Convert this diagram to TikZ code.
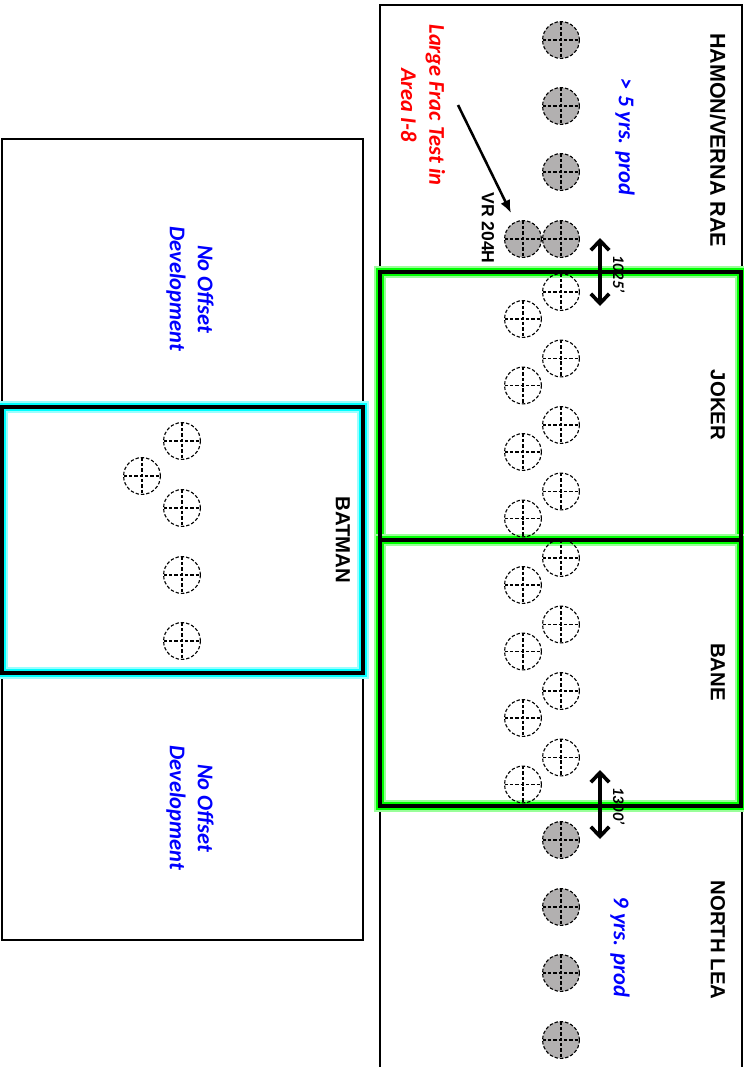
\documentclass[tikz,border=0pt]{standalone}
\usepackage{fontspec}
\setmainfont{Liberation Sans}
\newfontfamily\calibri{Carlito}
\usetikzlibrary{arrows.meta}
\definecolor{wellgray}{RGB}{178,176,176}
\definecolor{glowgreen}{RGB}{0,255,0}
\definecolor{glowcyan}{RGB}{0,255,255}
\definecolor{noteblue}{RGB}{0,0,255}
\definecolor{notered}{RGB}{255,0,0}

\begin{document}
\begin{tikzpicture}[x=0.025cm, y=-0.025cm, >={Latex[length=3.2mm,width=2.6mm]},
  well/.style={circle, draw, line width=0.8pt, dash pattern=on 2.4pt off 1.4pt, minimum size=0.92cm, inner sep=0pt,
    path picture={\draw[line width=0.8pt, dash pattern=on 2.4pt off 1.4pt] (path picture bounding box.north) -- (path picture bounding box.south) (path picture bounding box.west) -- (path picture bounding box.east);}},
  prodwell/.style={well, fill=wellgray},
  area/.style={font=\bfseries\fontsize{14.5}{17}\selectfont, rotate=-90},
  note/.style={font=\calibri\bfseries\itshape\fontsize{16}{20}\selectfont, rotate=-90, align=center},
  glow/.style={draw=#1!40, line width=0.32cm, postaction={draw=#1, line width=0.2cm}},
  frame/.style={draw=black, line width=0.1cm},
  gap/.style={{Straight Barb[length=2.4mm,width=4.6mm,line width=2.6pt]}-{Straight Barb[length=2.4mm,width=4.6mm,line width=2.6pt]}, line width=2.4pt}]
\useasboundingbox (0,0) rectangle (744,1067);

% lease outlines
\draw[line width=0.05cm] (380,1080) -- (380,5) -- (742,5) -- (742,1080);
\draw[line width=0.05cm] (2,139) rectangle (363,940);

% units
\draw[glow=glowgreen] (380,272) rectangle (741,540);
\draw[glow=glowgreen] (380,540) rectangle (741,806);
\draw[glow=glowcyan] (2,407) rectangle (363,673);
\draw[frame] (380,272) rectangle (741,540);
\draw[frame] (380,540) rectangle (741,806);
\draw[frame] (2,407) rectangle (363,673);

% producing wells
\foreach \y [count=\i] in {40,106,172,239}
  \node[prodwell] (hv\i) at (561,\y) {};
\node[prodwell] (vr) at (523,239) {};
\foreach \y [count=\i] in {840,907,973,1040}
  \node[prodwell] (nl\i) at (561,\y) {};

% planned wells
\foreach \i in {0,...,7} {
  \node[well] (ja\i) at (561,292+66.5*\i) {};
  \node[well] (jb\i) at (523,319+66.5*\i) {};
}
\foreach \y [count=\i] in {441,508,575,641}
  \node[well] (bm\i) at (182,\y) {};
\node[well] (bm0) at (142,476) {};

% labels
\node[area, font=\bfseries\fontsize{15.3}{18}\selectfont] (hamon) at (718,140) {HAMON/VERNA RAE};
\node[area] (joker) at (718,405) {JOKER};
\node[area] (bane) at (718,672) {BANE};
\node[area] (north) at (718,940) {NORTH LEA};
\node[area] (batman) at (343,540) {BATMAN};
\node[area, font=\bfseries\fontsize{12.5}{15}\selectfont] (vrlbl) at (488,228) {VR 204H};

\node[note, text=noteblue] (hvprod) at (625,137) {> 5 yrs. prod};
\node[note, text=noteblue] (nlprod) at (620,947) {9 yrs. prod};
\node[note, text=notered] (frac) at (423,105) {Large Frac Test in\\Area I-8};
\node[note, text=noteblue] (off1) at (190,289) {No Offset\\Development};
\node[note, text=noteblue] (off2) at (190,808) {No Offset\\Development};

% frac test arrow
\coordinate (fractail) at (458,105);
\coordinate (fractip) at (511,213);
\draw[->, line width=1.8pt] (fractail) -- (fractip);

% spacings
\coordinate (g1a) at (600,238);
\coordinate (g1b) at (600,306);
\coordinate (g2a) at (600,770);
\coordinate (g2b) at (600,839);
\draw[gap] (g1a) -- (g1b);
\draw[gap] (g2a) -- (g2b);
\node[note, font=\calibri\bfseries\itshape\fontsize{11.5}{13}\selectfont] (g1lbl) at (619,274) {1025’};
\node[note, font=\calibri\bfseries\itshape\fontsize{11.5}{13}\selectfont] (g2lbl) at (619,806) {1300’};
\end{tikzpicture}
\end{document}
